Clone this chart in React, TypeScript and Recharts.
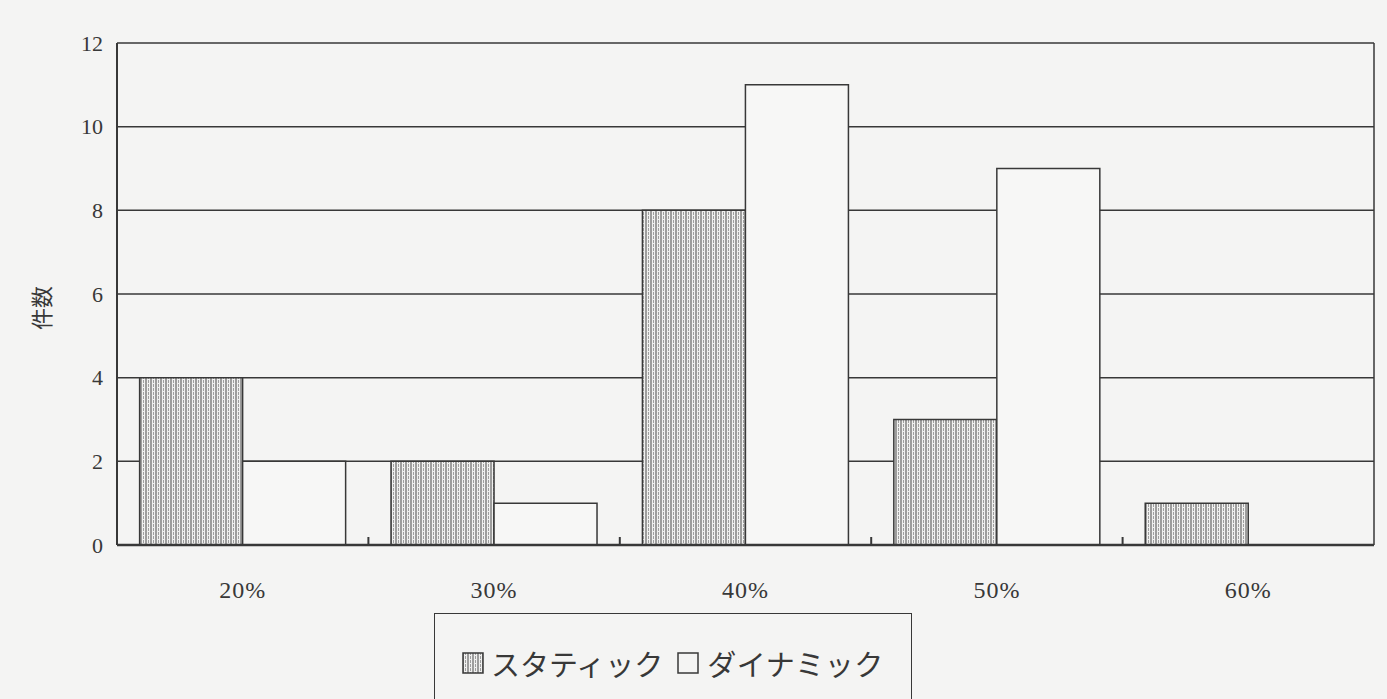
import {
  BarChart,
  Bar,
  XAxis,
  YAxis,
  CartesianGrid,
  Label,
} from "recharts";

const categories = ["20%", "30%", "40%", "50%", "60%"];
const staticCounts = [4, 2, 8, 3, 1];
const dynamicCounts = [2, 1, 11, 9, 0];
const yTicks = [0, 2, 4, 6, 8, 10, 12];

const seriesNames = { static: "スタティック", dynamic: "ダイナミック" };

const ink = "#383838";
const paper = "#f4f4f3";
const serif = "'Liberation Serif', 'DejaVu Serif', serif";
const jp = "'Noto Sans CJK JP', sans-serif";

const X_TICK_MARGIN = 36;

const chartData = categories.map((name, i) => ({
  name,
  static: staticCounts[i],
  dynamic: dynamicCounts[i],
}));

function StripeDefs({ id }: { id: string }) {
  return (
    <defs>
      <pattern id={id} width={5} height={8} patternUnits="userSpaceOnUse">
        <rect width={5} height={8} fill="#f0f0ef" />
        <line x1={1} y1={0} x2={1} y2={8} stroke="#4a4a4a" strokeWidth={1} />
        <line x1={3.5} y1={0} x2={3.5} y2={8} stroke="#8a8a8a" strokeWidth={0.8} strokeDasharray="3 1" />
      </pattern>
    </defs>
  );
}

// category label plus the small inward tick at the right edge of each band
function CategoryTick(props: any) {
  const { x, y, payload, index } = props;
  const axisY = y - X_TICK_MARGIN;
  const edge = x + (payload.offset || 0);
  return (
    <g>
      <text
        x={x}
        y={y}
        dy="0.71em"
        textAnchor="middle"
        fill={ink}
        fontSize={24}
        fontFamily={serif}
        letterSpacing={1}
      >
        {payload.value}
      </text>
      {index < categories.length - 1 && (
        <line x1={edge} x2={edge} y1={axisY} y2={axisY - 8} stroke={ink} strokeWidth={2} />
      )}
    </g>
  );
}

function YLabel(props: any) {
  const vb = props.viewBox || { y: 42, height: 503 };
  const cy = vb.y + vb.height / 2 + 14;
  return (
    <text
      x={50}
      y={cy}
      transform={`rotate(-90 50 ${cy})`}
      textAnchor="middle"
      fontFamily={jp}
      fontSize={22}
      fill={ink}
    >
      件数
    </text>
  );
}

function LegendBox() {
  return (
    <div
      style={{
        position: "absolute",
        left: 434,
        top: 613,
        width: 478,
        height: 100,
        border: `1.5px solid ${ink}`,
        boxSizing: "border-box",
        background: paper,
        fontFamily: jp,
        fontSize: 29,
        color: ink,
        lineHeight: 1,
      }}
    >
      <div style={{ position: "absolute", left: 27, top: 35, display: "flex", alignItems: "center" }}>
        <svg width={23} height={23} style={{ marginRight: 6 }}>
          <StripeDefs id="legendStripe" />
          <rect x={1} y={1} width={20} height={20} fill="url(#legendStripe)" stroke={ink} strokeWidth={1.5} />
        </svg>
        <span>{seriesNames.static}</span>
        <svg width={23} height={23} style={{ marginLeft: 14, marginRight: 7 }}>
          <rect x={1} y={1} width={20} height={20} fill={paper} stroke={ink} strokeWidth={1.5} />
        </svg>
        <span style={{ letterSpacing: 0.5 }}>{seriesNames.dynamic}</span>
      </div>
    </div>
  );
}

export default function App() {
  return (
    <div
      style={{
        position: "absolute",
        left: 0,
        top: 0,
        width: 1387,
        height: 699,
        background: paper,
        overflow: "hidden",
      }}
    >
      <BarChart
        width={1387}
        height={699}
        data={chartData}
        margin={{ top: 43, right: 12, bottom: 114, left: 5 }}
        barCategoryGap="9%"
        barGap={0}
      >
        <StripeDefs id="staticStripe" />
        <CartesianGrid vertical={false} stroke={ink} strokeWidth={1.5} />
        <XAxis
          dataKey="name"
          axisLine={{ stroke: ink, strokeWidth: 2.5 }}
          tickLine={false}
          tickSize={0}
          tickMargin={X_TICK_MARGIN}
          height={40}
          tick={<CategoryTick />}
        />
        <YAxis
          domain={[0, 12]}
          ticks={yTicks}
          width={112}
          axisLine={{ stroke: ink, strokeWidth: 2 }}
          tickLine={false}
          tickSize={0}
          tickMargin={14}
          tick={{ fill: ink, fontSize: 22, fontFamily: serif }}
        >
          <Label content={YLabel} />
        </YAxis>
        <YAxis
          yAxisId="frame"
          orientation="right"
          width={1}
          tick={false}
          tickLine={false}
          axisLine={{ stroke: ink, strokeWidth: 1.5 }}
        />
        <Bar
          dataKey="static"
          name={seriesNames.static}
          fill="url(#staticStripe)"
          stroke={ink}
          strokeWidth={1.5}
          isAnimationActive={false}
        />
        <Bar
          dataKey="dynamic"
          name={seriesNames.dynamic}
          fill="#f7f7f6"
          stroke={ink}
          strokeWidth={1.5}
          isAnimationActive={false}
        />
      </BarChart>
      <LegendBox />
    </div>
  );
}
